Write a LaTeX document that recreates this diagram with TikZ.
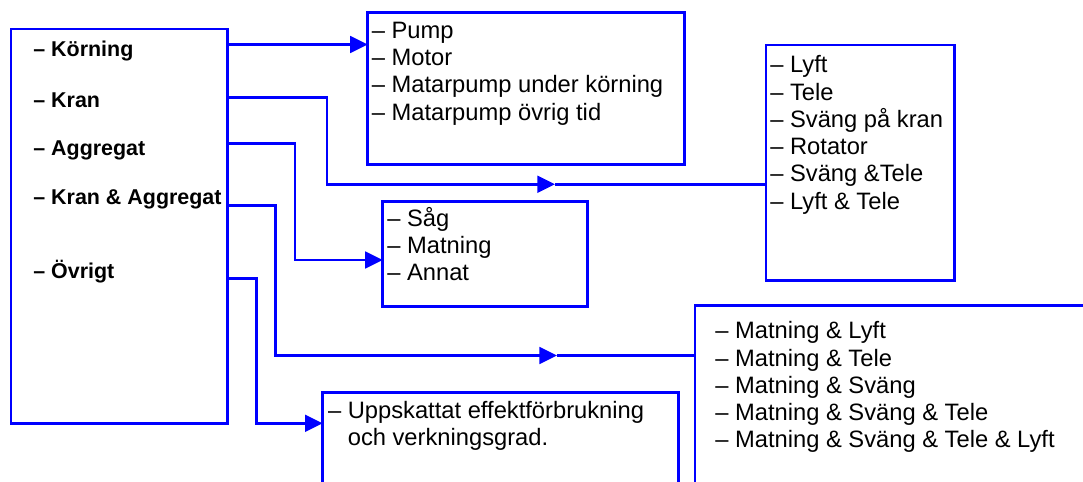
\documentclass[tikz,border=0pt]{standalone}
\usepackage{fontspec}
\setmainfont{Liberation Sans}
\usetikzlibrary{arrows.meta,fit}

\begin{document}
\begin{tikzpicture}[x=0.02cm,y=-0.02cm,
    box/.style={draw=blue, line width=1.4pt, inner sep=0pt, outer sep=0pt},
    wire/.style={blue, line width=1.5pt},
    arrowed/.style={-{Triangle[length=10pt,width=9.5pt]}},
    cat/.style={anchor=base west, inner sep=0pt, font=\fontsize{12.2}{14}\selectfont\bfseries},
    itemlist/.style={anchor=base west, inner sep=0pt, align=left, font=\fontsize{13.5}{15.5}\selectfont}]
        \clip (0,0) rectangle (1083,481);

        % Categories
        \node[box, fit={(11,29) (227.7,423.3)}] (mainbox) {};
        \node[cat] (korning) at (33,56) {--\ Körning};
        \node[cat] (kran) at (33,107.3) {-- Kran};
        \node[cat] (aggregat) at (33,155) {-- Aggregat};
        \node[cat] (kranaggr) at (33,204.3) {-- Kran \& Aggregat};
        \node[cat] (ovrigt) at (33,278.3) {-- Övrigt};

        % Sub lists
        \node[box, fit={(367.7,12.3) (684.3,164.3)}] (pumpbox) {};
        \node[itemlist] (pumplist) at (371.5,120) {-- Pump\\-- Motor\\-- Matarpump under körning\\-- Matarpump övrig tid};

        \node[box, fit={(766,45) (954.3,280.7)}] (kranbox) {};
        \node[itemlist] (kranlist) at (770,209) {-- Lyft\\-- Tele\\-- Sväng på kran\\-- Rotator\\-- Sväng \&Tele\\-- Lyft \& Tele};

        \node[box, fit={(382.7,201.3) (587.7,306.7)}] (aggrbox) {};
        \node[itemlist] (aggrlist) at (387,280.7) {-- Såg\\-- Matning\\-- Annat};

        \node[box, fit={(695,305.7) (1100,500)}] (kombbox) {};
        \node[itemlist] (komblist) at (715,447.7) {-- Matning \& Lyft\\-- Matning \& Tele\\-- Matning \& Sväng\\-- Matning \& Sväng \& Tele\\-- Matning \& Sväng \& Tele \& Lyft};

        \node[box, fit={(322.7,392.7) (678.3,500)}] (ovrbox) {};
        \node[itemlist] (ovrlist) at (327.7,445.7) {-- Uppskattat effektförbrukning\\\phantom{-- }och verkningsgrad.};

        % Connectors
        \coordinate (korning-out) at (227.7,44.5);
        \coordinate (kran-out) at (227.7,97.7);
        \coordinate (aggregat-out) at (227.7,143.3);
        \coordinate (kranaggr-out) at (227.7,205.7);
        \coordinate (ovrigt-out) at (227.7,278.3);
        \coordinate (kran-mid) at (555,184.3);
        \coordinate (kranaggr-mid) at (557,355.5);

        \draw[wire, arrowed] (korning-out) -- (pumpbox.west |- korning-out);
        \draw[wire, arrowed] (kran-out) -| (327,184.3) -- (kran-mid);
        \draw[wire] (kran-mid) -- (kranbox.west |- kran-mid);
        \draw[wire, arrowed] (aggregat-out) -| (295,260) -- (aggrbox.west |- 0,260);
        \draw[wire, arrowed] (kranaggr-out) -| (275.7,355.5) -- (kranaggr-mid);
        \draw[wire] (kranaggr-mid) -- (kombbox.west |- kranaggr-mid);
        \draw[wire, arrowed] (ovrigt-out) -| (256.7,423.3) -- (ovrbox.west |- 0,423.3);
      \end{tikzpicture}
\end{document}
